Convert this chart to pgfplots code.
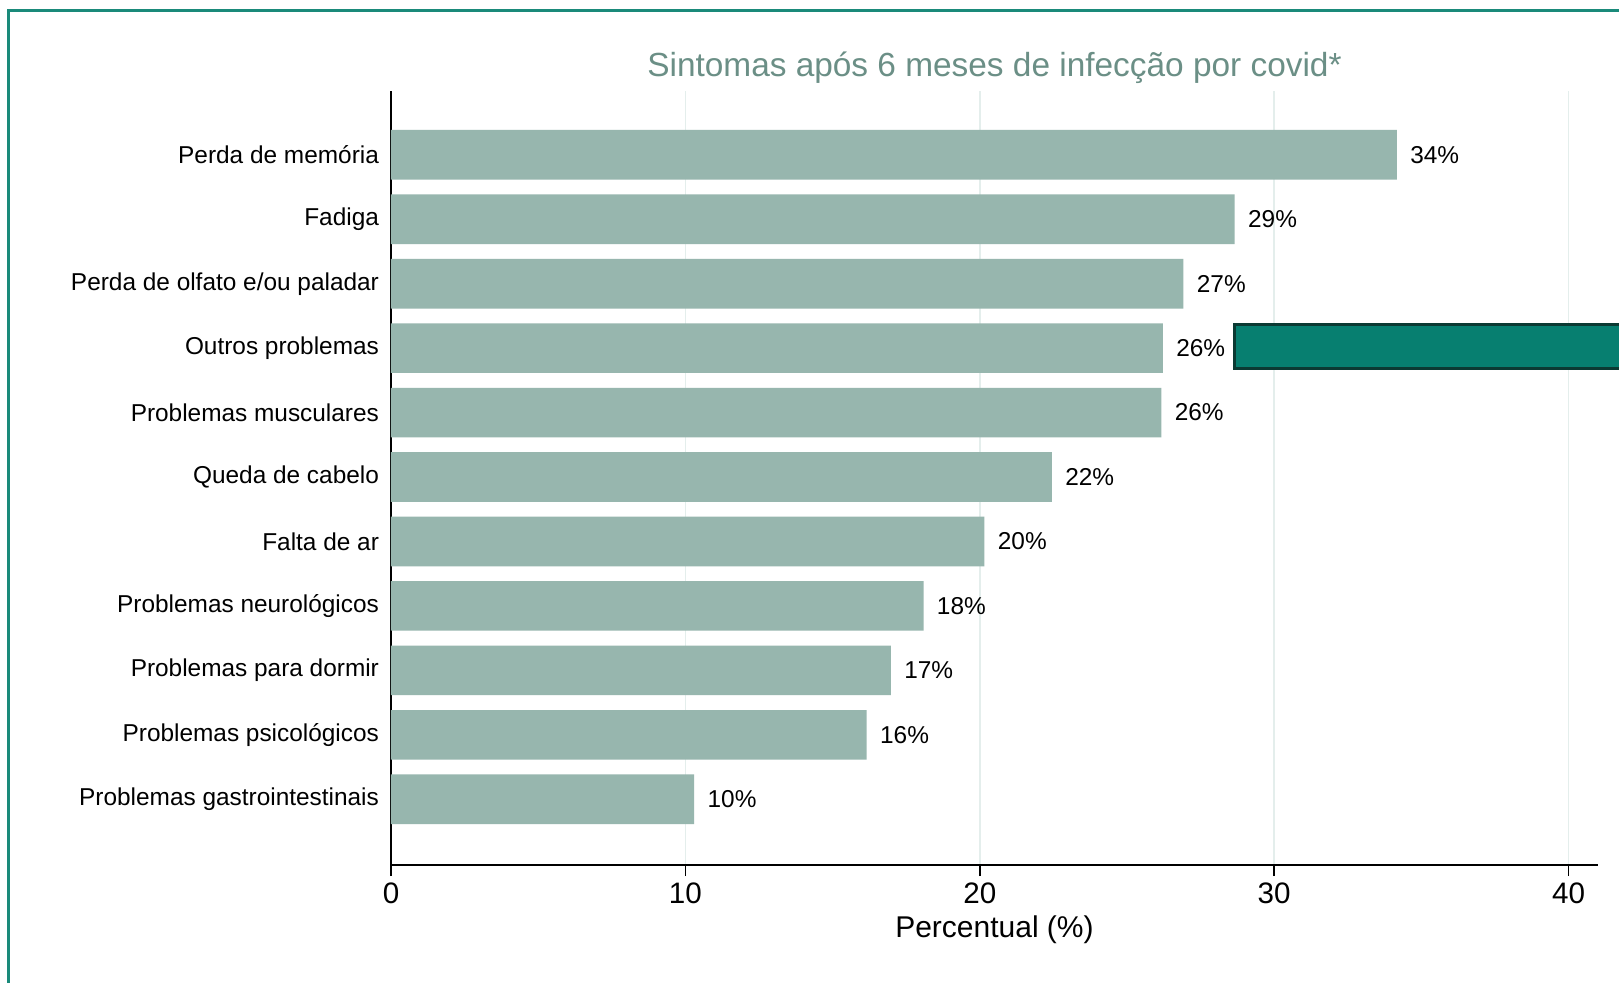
\documentclass[border=0pt]{standalone}
\usepackage{fontspec}
\setmainfont{Liberation Sans}
\usepackage{pgfplots}
\pgfplotsset{compat=1.18}
\definecolor{barc}{HTML}{97B6AE}
\definecolor{titlec}{HTML}{6B8F86}
\definecolor{gridc}{HTML}{E4EEEC}
\definecolor{framec}{HTML}{1A8A7A}
\definecolor{boxc}{HTML}{077F70}
\definecolor{boxb}{HTML}{0B3A33}
\begin{document}
\begin{tikzpicture}
\clip (0,0) rectangle (809.5pt,-491.5pt);
\fill[white] (0,0) rectangle (809.5pt,-491.5pt);
\draw[framec, line width=1.5pt] (4pt,-520pt) -- (4pt,-5.5pt) -- (830pt,-5.5pt);
\begin{axis}[
  at={(195.5pt,-432.5pt)}, anchor=south west,
  scale only axis, width=603.5pt, height=387pt,
  xbar, bar width=0.77,
  xmin=0, xmax=41, ymin=-1.02, ymax=10.99,
  axis lines*=left,
  axis line style={black, line width=0.75pt},
  xtick={0,10,20,30,40},
  ytick={0,...,10},
  yticklabels={Problemas gastrointestinais,Problemas psicológicos,Problemas para dormir,Problemas neurológicos,Falta de ar,Queda de cabelo,Problemas musculares,Outros problemas,Perda de olfato e/ou paladar,Fadiga,Perda de memória},
  /pgf/number format/assume math mode=true,
  xticklabel style={font=\fontsize{14.8}{16}\selectfont},
  yticklabel style={font=\fontsize{12.2}{14}\selectfont, xshift=3pt},
  tick align=outside,
  xtick style={black, line width=0.75pt},
  major tick length=5.5pt,
  ytick style={draw=none},
  xmajorgrids, major grid style={gridc, line width=0.8pt},
  xlabel={Percentual (\%)},
  xlabel style={font=\fontsize{15}{17}\selectfont, at={(axis description cs:0.5,0)}, anchor=center, yshift=-32.5pt},
  title={Sintomas após 6 meses de infecção por covid*},
  title style={font=\fontsize{16.7}{19}\selectfont, text=titlec, at={(axis description cs:0.5,1)}, anchor=base, yshift=1.3pt},
  point meta=explicit symbolic,
  nodes near coords,
  every node near coord/.append style={font=\fontsize{12.2}{14}\selectfont, anchor=west, inner sep=0pt, xshift=6.5pt, text=black},
  clip=false,
]
\addplot[fill=barc, draw=none] coordinates {
  (10.30,0) [10\%]
  (16.16,1) [16\%]
  (16.98,2) [17\%]
  (18.09,3) [18\%]
  (20.16,4) [20\%]
  (22.45,5) [22\%]
  (26.17,6) [26\%]
  (26.22,7) [26\%]
  (26.92,8) [27\%]
  (28.66,9) [29\%]
  (34.17,10) [34\%]
};
\end{axis}
\draw[boxb, fill=boxc, line width=1.5pt] (617pt,-162.5pt) rectangle (830pt,-184.5pt);
\end{tikzpicture}
\end{document}
